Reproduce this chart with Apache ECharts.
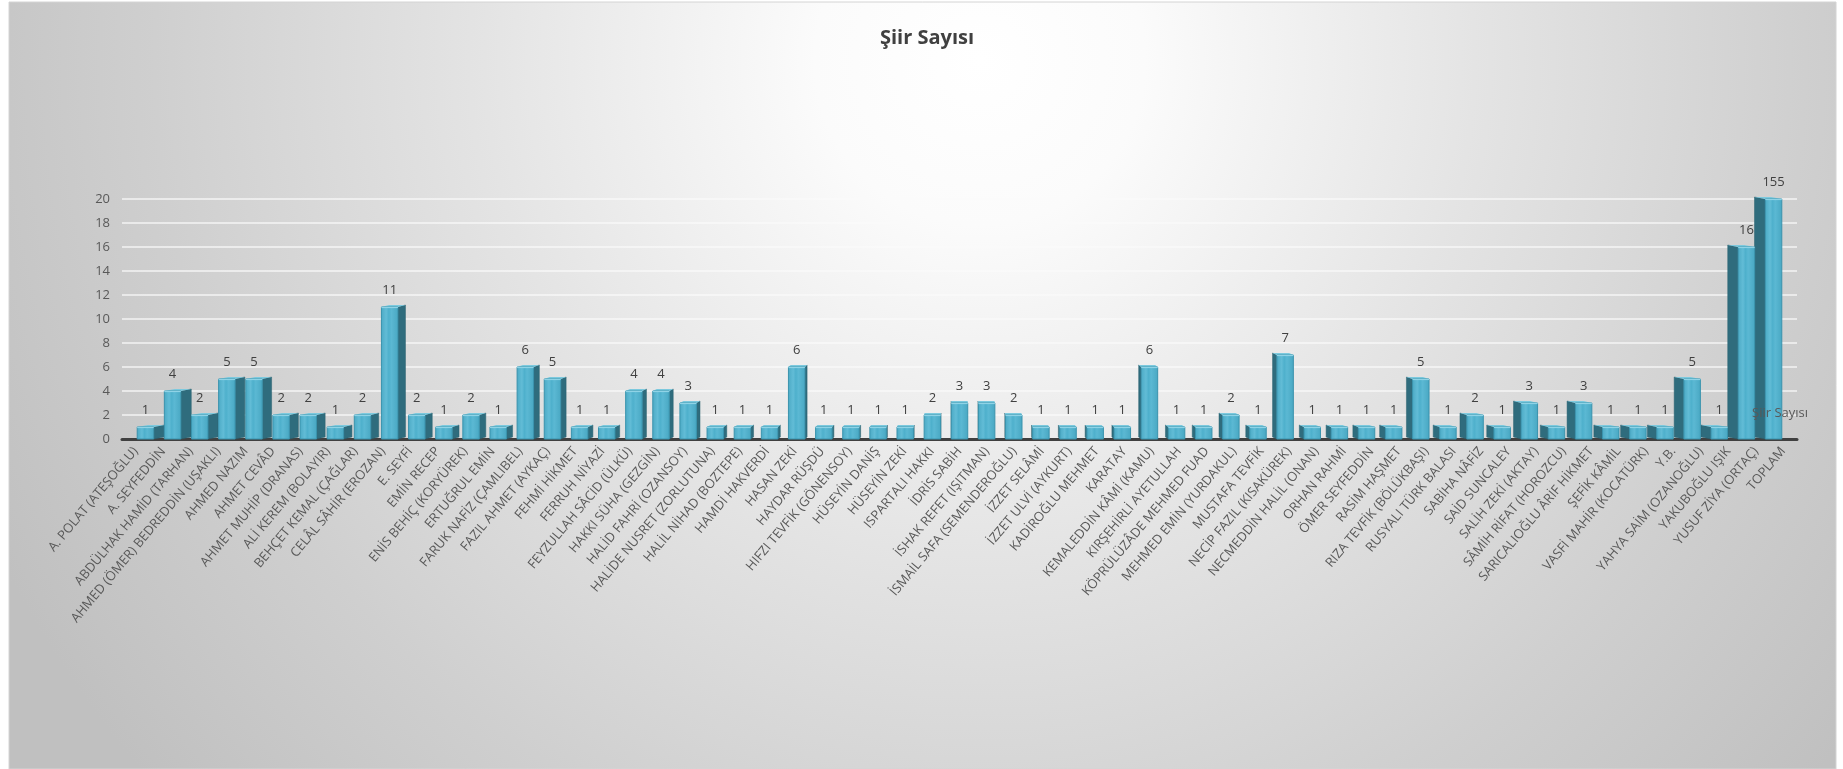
<!DOCTYPE html>
<html>
<head>
<meta charset="utf-8">
<script src="https://cdn.jsdelivr.net/npm/echarts@6/dist/echarts.min.js"></script>
<style>
html,body{margin:0;padding:0;background:#ffffff;}
#chart{width:1843px;height:769px;}
</style>
</head>
<body>
<div id="chart"></div>
<script>
const chartTitle = 'Şiir Sayısı';
const seriesName = 'Şiir Sayısı';
const categories = [
  'A. POLAT (ATEŞOĞLU)', 'A. SEYFEDDİN', 'ABDÜLHAK HAMİD (TARHAN)', 'AHMED (ÖMER) BEDREDDİN (UŞAKLI)',
  'AHMED NAZIM', 'AHMET CEVÂD', 'AHMET MUHİP (DRANAS)', 'ALİ KEREM (BOLAYIR)', 'BEHÇET KEMAL (ÇAĞLAR)',
  'CELÂL SÂHİR (EROZAN)', 'E. SEYFİ', 'EMİN RECEP', 'ENİS BEHİÇ (KORYÜREK)', 'ERTUĞRUL EMİN',
  'FARUK NAFİZ (ÇAMLIBEL)', 'FAZIL AHMET (AYKAÇ)', 'FEHMİ HİKMET', 'FERRUH NİYAZİ', 'FEYZULLAH SÂCİD (ÜLKÜ)',
  'HAKKI SÜHA (GEZGİN)', 'HALİD FAHRİ (OZANSOY)', 'HALİDE NUSRET (ZORLUTUNA)', 'HALİL NİHAD (BOZTEPE)',
  'HAMDİ HAKVERDİ', 'HASAN ZEKİ', 'HAYDAR RÜŞDÜ', 'HIFZI TEVFİK (GÖNENSOY)', 'HÜSEYİN DANİŞ', 'HÜSEYİN ZEKİ',
  'ISPARTALI HAKKI', 'İDRİS SABİH', 'İSHAK REFET (IŞITMAN)', 'İSMAİL SAFA (SEMENDEROĞLU)', 'İZZET SELÂMİ',
  'İZZET ULVİ (AYKURT)', 'KADİROĞLU MEHMET', 'KARATAY', 'KEMALEDDİN KÂMİ (KAMU)', 'KIRŞEHİRLİ AYETULLAH',
  'KÖPRÜLÜZÂDE MEHMED FUAD', 'MEHMED EMİN (YURDAKUL)', 'MUSTAFA TEVFİK', 'NECİP FAZIL (KISAKÜREK)',
  'NECMEDDİN HALİL (ONAN)', 'ORHAN RAHMİ', 'ÖMER SEYFEDDİN', 'RASİM HAŞMET', 'RIZA TEVFİK (BÖLÜKBAŞI)',
  'RUSYALI TÜRK BALASI', 'SABİHA NÂFİZ', 'SAİD SUNCALEY', 'SALİH ZEKİ (AKTAY)', 'SÂMİH RİFAT (HOROZCU)',
  'SARICALIOĞLU ÂRİF HİKMET', 'ŞEFİK KÂMİL', 'VASFİ MAHİR (KOCATÜRK)', 'Y.B.', 'YAHYA SAİM (OZANOĞLU)',
  'YAKUBOĞLU IŞIK', 'YUSUF ZİYA (ORTAÇ)', 'TOPLAM'
];
const poemCounts = [
  1, 4, 2, 5, 5, 2, 2, 1, 2, 11, 2, 1, 2, 1, 6, 5, 1, 1, 4, 4, 3, 1, 1, 1, 6, 1, 1, 1, 1, 2,
  3, 3, 2, 1, 1, 1, 1, 6, 1, 1, 2, 1, 7, 1, 1, 1, 1, 5, 1, 2, 1, 3, 1, 3, 1, 1, 1, 5, 1, 16, 155
];
const yMin = 0;
const yMax = 20;
const yInterval = 2;

const chart = echarts.init(document.getElementById('chart'));
const FONT = '"Open Sans", "Noto Sans", sans-serif';

// value shown by the axis is clipped at the axis maximum (as in the original); labels keep the real value
const seriesData = poemCounts.map((v, i) => [i, Math.min(v, yMax), v]);

function renderBar(params, api) {
  const idx = api.value(0);
  const shown = api.value(1);
  const real = api.value(2);
  const base = api.coord([idx, 0]);
  const top = api.coord([idx, shown]);
  const band = api.size([1, 0])[0];
  const cs = params.coordSys;
  const cx = cs.x + cs.width / 2;
  const half = cs.width / 2;
  const t = (base[0] - cx) / half;
  const fw = band * 0.6;
  const shift = -t * band * 0.36;
  const sw = band * 0.4 * Math.abs(t);
  const dir = t < 0 ? 1 : -1;
  const fc = base[0] + shift;
  const fl = fc - fw / 2;
  const fr = fc + fw / 2;
  const yT = top[1];
  const yB = base[1];
  const dy = -2;
  const xi = dir > 0 ? fr : fl;
  const children = [];
  children.push({
    type: 'polygon', z2: 1,
    shape: { points: [[xi, yT], [xi + dir * sw, yT + dy], [xi + dir * sw, yB + dy], [xi, yB]] },
    style: { fill: '#2f6c7d', stroke: '#29606f', lineWidth: 0.5 }
  });
  children.push({
    type: 'polygon', z2: 2,
    shape: { points: [[fl, yT], [fr, yT], [fr + dir * sw, yT + dy], [fl + dir * sw, yT + dy]] },
    style: { fill: '#7cc9de' }
  });
  children.push({
    type: 'rect', z2: 10,
    shape: { x: fl, y: yT, width: fw, height: yB - yT },
    style: {
      fill: new echarts.graphic.LinearGradient(0, 0, 1, 0, [
        { offset: 0, color: '#4aa9c4' },
        { offset: 0.3, color: '#62bcd6' },
        { offset: 0.45, color: '#4eb0cc' },
        { offset: 0.6, color: '#5bb8d3' },
        { offset: 1, color: '#48a7c2' }
      ]),
      stroke: '#3a93ad', lineWidth: 1
    }
  });
  children.push({
    type: 'line', z2: 11,
    shape: { x1: fl, y1: yT + 0.5, x2: fr, y2: yT + 0.5 },
    style: { stroke: '#8fd3e6', lineWidth: 1.2 }
  });
  children.push({
    type: 'text', z2: 20,
    style: {
      x: fc, y: yT - 17, text: String(real),
      align: 'center', verticalAlign: 'middle',
      font: '13px ' + FONT, fill: '#404040'
    }
  });
  return { type: 'group', children: children };
}

const option = {
  animation: false,
  backgroundColor: '#ffffff',
  graphic: [
    {
      type: 'rect', z: -10, silent: true,
      shape: { x: 9, y: 2, width: 1827, height: 767 },
      style: {
        fill: new echarts.graphic.RadialGradient(980, 60, 1100, [
          { offset: 0, color: '#ffffff' },
          { offset: 0.15, color: '#fbfbfb' },
          { offset: 0.45, color: '#e4e4e4' },
          { offset: 0.75, color: '#cfcfcf' },
          { offset: 1, color: '#c0c0c0' }
        ], true),
        stroke: '#d4d4d4', lineWidth: 1
      }
    },
    {
      type: 'text', z: 10, left: 1752, top: 407,
      style: { text: seriesName, font: '13px ' + FONT, fill: '#595959' }
    }
  ],
  title: {
    text: chartTitle,
    left: 922, top: 23, textAlign: 'center',
    textStyle: { fontFamily: FONT, fontSize: 20, fontWeight: 'bold', color: '#404040' }
  },
  grid: { left: 122, right: 46, top: 199, bottom: 330, containLabel: false },
  xAxis: {
    type: 'category',
    data: categories,
    boundaryGap: true,
    axisLine: { show: true, lineStyle: { color: '#404040', width: 3 } },
    axisTick: { show: false },
    axisLabel: {
      interval: 0, rotate: 50, margin: 10,
      fontFamily: FONT, fontSize: 13, color: '#595959'
    },
    splitLine: { show: false }
  },
  yAxis: {
    type: 'value',
    min: yMin, max: yMax, interval: yInterval,
    axisLine: { show: false },
    axisTick: { show: false },
    axisLabel: { fontFamily: FONT, fontSize: 13, color: '#595959', margin: 12 },
    splitLine: { show: true, lineStyle: { color: 'rgba(250,250,250,0.85)', width: 1.5 } }
  },
  series: [
    {
      type: 'custom',
      name: seriesName,
      data: seriesData,
      encode: { x: 0, y: 1 },
      renderItem: renderBar,
      clip: false
    }
  ]
};
chart.setOption(option);
</script>
</body>
</html>
